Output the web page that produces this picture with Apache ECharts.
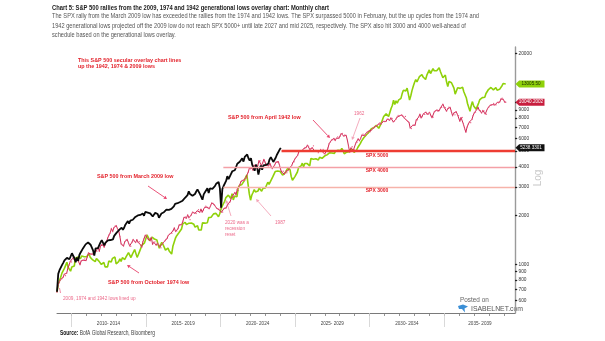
<!DOCTYPE html>
<html>
<head>
<meta charset="utf-8">
<script src="https://cdn.jsdelivr.net/npm/echarts@6/dist/echarts.min.js"></script>
<style>
  html, body { margin: 0; padding: 0; background: #fff; }
  #chart { width: 605px; height: 341px; }
</style>
</head>
<body>
<div id="chart"></div>
<script>
// S&P 500 monthly levels for each generational cycle, starting at the cycle low.
// 2009 cycle: March 2009 low, then month-end closes to March 2024.
const spx2009 = [
  676.53, 872.81, 919.14, 919.32, 987.48, 1020.62, 1057.08, 1036.19, 1095.63, 1115.10,
  1073.87, 1104.49, 1169.43, 1186.69, 1089.41, 1030.71, 1101.60, 1049.33, 1141.20, 1183.26, 1180.55, 1257.64,
  1286.12, 1327.22, 1325.83, 1363.61, 1345.20, 1320.64, 1292.28, 1218.89, 1131.42, 1253.30, 1246.96, 1257.60,
  1312.41, 1365.68, 1408.47, 1397.91, 1310.33, 1362.16, 1379.32, 1406.58, 1440.67, 1412.16, 1416.18, 1426.19,
  1498.11, 1514.68, 1569.19, 1597.57, 1630.74, 1606.28, 1685.73, 1632.97, 1681.55, 1756.54, 1805.81, 1848.36,
  1782.59, 1859.45, 1872.34, 1883.95, 1923.57, 1960.23, 1930.67, 2003.37, 1972.29, 2018.05, 2067.56, 2058.90,
  1994.99, 2104.50, 2067.89, 2085.51, 2107.39, 2063.11, 2103.84, 1972.18, 1920.03, 2079.36, 2080.41, 2043.94,
  1940.24, 1932.23, 2059.74, 2065.30, 2096.95, 2098.86, 2173.60, 2170.95, 2168.27, 2126.15, 2198.81, 2238.83,
  2278.87, 2363.64, 2362.72, 2384.20, 2411.80, 2423.41, 2470.30, 2471.65, 2519.36, 2575.26, 2647.58, 2673.61,
  2823.81, 2713.83, 2640.87, 2648.05, 2705.27, 2718.37, 2816.29, 2901.52, 2913.98, 2711.74, 2760.17, 2506.85,
  2704.10, 2784.49, 2834.40, 2945.83, 2752.06, 2941.76, 2980.38, 2926.46, 2976.74, 3037.56, 3140.98, 3230.78,
  3225.52, 2954.22, 2237.40, 2912.43, 3044.31, 3100.29, 3271.12, 3500.31, 3363.00, 3269.96, 3621.63, 3756.07,
  3714.24, 3811.15, 3972.89, 4181.17, 4204.11, 4297.50, 4395.26, 4522.68, 4307.54, 4605.38, 4567.00, 4766.18,
  4515.55, 4373.94, 4530.41, 4131.93, 4132.15, 3785.38, 4130.29, 3955.00, 3585.62, 3871.98, 4080.11, 3839.50,
  4076.60, 3970.15, 4109.31, 4169.48, 4179.83, 4450.38, 4588.96, 4507.66, 4288.05, 4193.80, 4567.80, 4769.83,
  4845.65, 5096.27, 5238.3301
];

// 1974 cycle: October 1974 low, then month-end closes to February 2005.
const spx1974 = [
  62.28, 69.97, 68.56,
  76.98, 81.59, 83.36, 87.30, 91.15, 95.19, 88.75, 86.88, 83.87, 89.04, 91.24, 90.19,
  100.86, 99.71, 102.77, 101.64, 100.18, 104.28, 103.44, 102.91, 105.24, 102.90, 102.10, 107.46,
  102.03, 99.82, 98.42, 98.44, 96.12, 100.48, 98.85, 96.77, 96.53, 92.34, 94.83, 95.10,
  89.25, 87.04, 89.21, 96.83, 97.24, 95.53, 100.68, 103.29, 102.54, 93.15, 94.70, 96.11,
  99.93, 96.28, 101.59, 101.76, 99.08, 102.91, 103.81, 109.32, 109.32, 101.82, 106.16, 107.94,
  114.16, 113.66, 102.09, 106.29, 111.24, 114.24, 121.67, 122.38, 125.46, 127.47, 140.52, 135.76,
  129.55, 131.27, 136.00, 132.81, 132.59, 131.21, 130.92, 122.79, 116.18, 121.89, 126.35, 122.55,
  120.40, 113.11, 111.96, 116.44, 111.88, 109.61, 107.09, 119.51, 120.42, 133.71, 138.54, 140.64,
  145.30, 148.06, 152.96, 164.42, 162.39, 168.11, 162.56, 164.40, 166.07, 163.55, 166.40, 164.93,
  163.41, 157.06, 159.18, 160.05, 150.55, 153.18, 150.66, 166.68, 166.10, 166.09, 163.58, 167.24,
  179.63, 181.18, 180.66, 179.83, 189.55, 191.85, 190.92, 188.63, 182.08, 189.82, 202.17, 211.28,
  211.78, 226.92, 238.90, 235.52, 247.35, 250.84, 236.12, 252.93, 231.32, 243.98, 249.22, 242.17,
  274.08, 284.20, 291.70, 288.36, 290.10, 304.00, 318.66, 329.80, 321.83, 251.79, 230.30, 247.08,
  257.07, 267.82, 258.89, 261.33, 262.16, 273.50, 272.02, 261.52, 271.91, 278.97, 273.70, 277.72,
  297.47, 288.86, 294.87, 309.64, 320.52, 317.98, 346.08, 351.45, 349.15, 340.36, 345.99, 353.40,
  329.08, 331.89, 339.94, 330.80, 361.23, 358.02, 356.15, 322.56, 306.05, 304.00, 322.22, 330.22,
  343.93, 367.07, 375.22, 375.35, 389.83, 371.16, 387.81, 395.43, 387.86, 392.46, 375.22, 417.09,
  408.79, 412.70, 403.69, 414.95, 415.35, 408.14, 424.21, 414.03, 417.80, 418.68, 431.35, 435.71,
  438.78, 443.38, 451.67, 440.19, 450.19, 450.53, 448.13, 463.56, 458.93, 467.83, 461.79, 466.45,
  481.61, 467.14, 445.77, 450.91, 456.50, 444.27, 458.26, 475.49, 462.69, 472.35, 453.69, 459.27,
  470.42, 487.39, 500.71, 514.71, 533.40, 544.75, 562.06, 561.88, 584.41, 581.50, 605.37, 615.93,
  636.02, 640.43, 645.50, 654.17, 669.12, 670.63, 639.95, 651.99, 687.33, 705.27, 757.02, 740.74,
  786.16, 790.82, 757.12, 801.34, 848.28, 885.14, 954.29, 899.47, 947.28, 914.62, 955.40, 970.43,
  980.28, 1049.34, 1101.75, 1111.75, 1090.82, 1133.84, 1120.67, 957.28, 1017.01, 1098.67, 1163.63, 1229.23,
  1279.64, 1238.33, 1286.37, 1335.18, 1301.84, 1372.71, 1328.72, 1320.41, 1282.71, 1362.93, 1388.91, 1469.25,
  1394.46, 1366.42, 1498.58, 1452.43, 1420.60, 1454.60, 1430.83, 1517.68, 1436.51, 1429.40, 1314.95, 1320.28,
  1366.01, 1239.94, 1160.33, 1249.46, 1255.82, 1224.38, 1211.23, 1133.58, 1040.94, 1059.78, 1139.45, 1148.08,
  1130.20, 1106.73, 1147.39, 1076.92, 1067.14, 989.82, 911.62, 916.07, 815.28, 885.76, 936.31, 879.82,
  855.70, 841.15, 848.18, 916.92, 963.59, 974.50, 990.31, 1008.01, 995.97, 1050.71, 1058.20, 1111.92,
  1131.13, 1144.94, 1126.21, 1107.30, 1120.68, 1140.84, 1101.72, 1104.24, 1114.58, 1130.20, 1173.82, 1211.92,
  1181.27, 1203.60
];

// 1942 cycle: April 1942 low, then month-end closes to March 1973.
const spx1942 = [
  7.47, 8.33, 8.64, 8.96, 9.04, 9.21, 9.64, 9.45, 9.77,
  10.53, 11.00, 11.58, 11.48, 12.10, 12.35, 11.72, 11.71, 11.89, 11.65, 11.03, 11.67,
  11.78, 11.76, 11.99, 11.70, 12.31, 13.06, 12.80, 12.84, 12.80, 12.87, 12.98, 13.28,
  13.39, 14.12, 13.37, 14.45, 14.73, 14.62, 14.16, 14.80, 15.37, 16.22, 16.85, 17.36,
  18.51, 17.66, 18.70, 19.14, 19.25, 18.43, 17.91, 16.49, 14.84, 14.60, 14.40, 15.30,
  15.66, 15.80, 15.17, 14.42, 14.35, 15.21, 15.80, 15.36, 15.12, 15.77, 15.18, 15.30,
  14.69, 14.15, 15.31, 16.03, 16.83, 16.82, 15.97, 16.01, 15.50, 16.29, 14.75, 15.20,
  15.29, 14.58, 15.01, 14.69, 14.21, 14.03, 14.85, 15.07, 15.44, 15.84, 16.05, 16.76,
  17.05, 17.22, 17.29, 17.96, 18.65, 17.69, 17.84, 18.42, 19.45, 19.53, 19.51, 20.43,
  21.66, 21.80, 21.40, 22.43, 21.52, 20.96, 22.40, 23.28, 23.26, 22.94, 22.88, 23.77,
  24.14, 23.26, 24.37, 23.32, 23.86, 24.96, 25.40, 25.03, 24.54, 24.52, 25.66, 26.57,
  26.38, 25.90, 25.29, 24.62, 24.54, 24.14, 24.75, 23.32, 23.35, 24.54, 24.76, 24.81,
  26.08, 26.15, 26.94, 28.26, 29.19, 29.21, 30.88, 29.83, 32.31, 31.68, 34.24, 35.98,
  36.63, 36.76, 36.58, 37.96, 37.91, 41.03, 43.52, 43.18, 43.67, 42.34, 45.51, 45.48,
  43.82, 45.34, 48.48, 48.38, 45.20, 46.97, 49.39, 47.51, 45.35, 45.58, 45.08, 46.67,
  44.72, 43.26, 44.11, 45.74, 47.43, 47.37, 47.91, 45.22, 42.42, 41.06, 41.72, 39.99,
  41.70, 40.84, 42.10, 43.44, 44.09, 45.24, 47.19, 47.75, 50.06, 51.33, 52.48, 55.21,
  55.42, 55.41, 55.44, 57.59, 58.68, 58.47, 60.51, 59.60, 56.88, 57.52, 58.28, 59.89,
  55.61, 56.12, 55.34, 54.37, 55.83, 56.92, 55.51, 56.96, 53.52, 53.39, 55.54, 58.11,
  61.78, 63.44, 65.06, 65.31, 66.56, 64.64, 66.76, 68.07, 66.73, 68.62, 71.32, 71.55,
  68.84, 69.96, 69.55, 65.24, 59.63, 54.75, 58.23, 59.12, 56.27, 56.52, 62.26, 63.10,
  66.20, 64.29, 66.57, 69.80, 70.80, 69.37, 69.13, 72.50, 71.70, 74.01, 73.23, 75.02,
  77.04, 77.80, 78.98, 79.46, 80.37, 81.69, 83.18, 81.83, 84.18, 84.86, 84.42, 84.75,
  87.56, 87.43, 86.16, 89.11, 88.42, 84.12, 85.25, 87.17, 89.96, 92.42, 91.61, 92.43,
  92.88, 91.22, 89.23, 91.06, 86.13, 84.74, 83.60, 77.10, 76.56, 80.20, 80.45, 80.33,
  86.61, 86.78, 90.20, 94.01, 89.08, 90.64, 94.75, 93.64, 96.71, 93.90, 94.00, 96.47,
  92.24, 89.36, 90.20, 97.59, 98.68, 99.58, 97.74, 98.86, 102.67, 103.41, 108.37, 103.86,
  103.01, 98.13, 101.51, 103.69, 103.46, 97.71, 91.83, 95.51, 93.12, 97.24, 93.81, 92.06,
  85.02, 89.50, 89.63, 81.52, 76.55, 72.72, 78.05, 81.52, 84.21, 83.25, 87.20, 92.15,
  95.88, 96.75, 100.31, 103.95, 99.63, 98.70, 95.58, 99.03, 98.34, 94.23, 93.99, 102.09,
  103.94, 106.57, 107.20, 107.67, 109.53, 107.14, 107.39, 111.09, 110.55, 111.58, 116.67, 118.05,
  116.03, 111.68, 111.52
];

// Overlay rebasing: each older cycle is scaled so its low sits on the 2009 low.
const rebase = { c2009: 1, c1974: 10.8055, c1942: 90.03049 };
// Trading-session pace of each cycle relative to the 2009 calendar.
const sessionPace = { c2009: 1, c1974: 0.9916, c1942: 0.973 };

// Axis settings
const CYCLE_START = 2009.05;
const X_MIN = 2009.05, X_MAX = 2039.75;
const yearTicks = [2010, 2011, 2012, 2013, 2014, 2015, 2016, 2017, 2018, 2019, 2020, 2021, 2022, 2023, 2024,
  2025, 2026, 2027, 2028, 2029, 2030, 2031, 2032, 2033, 2034, 2035, 2036, 2037, 2038, 2039];
const periodBreaks = [2010, 2015, 2020, 2025, 2030, 2035];
const periodLabelAt = [2012.5, 2017.5, 2022.5, 2027.5, 2032.5, 2037.4];
const yTickValues = [600, 700, 800, 900, 1000, 2000, 3000, 4000, 5000, 6000, 7000, 8000, 9000, 10000, 20000];
const spxLevels = [5000, 4000, 3000];

const toPoints = (levels, k, pace) => levels.map((v, i) => [CYCLE_START + (i / 12) * pace, v * k]);
const s2009 = toPoints(spx2009, rebase.c2009, sessionPace.c2009);
const s1974 = toPoints(spx1974, rebase.c1974, sessionPace.c1974);
const s1942 = toPoints(spx1942, rebase.c1942, sessionPace.c1942);
const last = s => s[s.length - 1][1];

const RED = '#e3222b';
const PINK = '#ec6a8a';
const LIGHT_PINK = '#f3a3b7';
const SANS = '"Liberation Sans", Arial, sans-serif';

// Tag marker drawn at the right axis for the latest value of a line.
const TAG_PATH = 'path://M0,5 L5,0 L40,0 L40,10 L5,10 Z';
function endTag(value, text, bg, fg) {
  return {
    symbol: 'none',
    data: [{
      coord: [X_MAX, value],
      symbol: TAG_PATH,
      symbolSize: [29, 7],
      symbolOffset: [15, 0],
      itemStyle: { color: bg },
      label: {
        show: true, position: 'inside', offset: [1, 0],
        formatter: text, color: fg, fontSize: 4.6, fontFamily: SANS
      }
    }],
    silent: true,
    animation: false
  };
}

function txt(x, y, text, font, fill, sx) {
  return {
    type: 'text', x: x, y: y, scaleX: sx || 1, silent: true,
    style: { text: text, font: font, fill: fill, verticalAlign: 'middle' }
  };
}

function arrow(x1, y1, x2, y2, color, head) {
  const dx = x2 - x1, dy = y2 - y1, len = Math.hypot(dx, dy);
  const ux = dx / len, uy = dy / len, h = head || 3.2, w = h * 0.55;
  const bx = x2 - ux * h, by = y2 - uy * h;
  return [
    { type: 'line', silent: true, shape: { x1: x1, y1: y1, x2: bx, y2: by }, style: { stroke: color, lineWidth: 0.9 } },
    { type: 'polygon', silent: true, shape: { points: [[x2, y2], [bx - uy * w, by + ux * w], [bx + uy * w, by - ux * w]] }, style: { fill: color } }
  ];
}

const boldRed = 'bold 5.4px ' + SANS;
const thinPink = '4.7px ' + SANS;

const graphics = [
  txt(52, 7.5, 'Chart 5: S&P 500 rallies from the 2009, 1974 and 1942 generational lows overlay chart: Monthly chart', 'bold 7.4px ' + SANS, '#1b1b1b', 0.785),
  txt(52, 16.5, 'The SPX rally from the March 2009 low has exceeded the rallies from the 1974 and 1942 lows. The SPX surpassed 5000 in February, but the up cycles from the 1974 and', '6.6px ' + SANS, '#555', 0.86),
  txt(52, 25.8, '1942 generational lows projected off the 2009 low do not reach SPX 5000+ until late 2027 and mid 2025, respectively. The SPX also hit 3000 and 4000 well-ahead of', '6.6px ' + SANS, '#555', 0.86),
  txt(52, 35, 'schedule based on the generational lows overlay.', '6.6px ' + SANS, '#555', 0.86),

  txt(78, 60.7, 'This S&P 500 secular overlay chart lines', boldRed, RED),
  txt(78, 66.7, 'up the 1942, 1974 & 2009 lows', boldRed, RED),
  txt(228, 117.7, 'S&P 500 from April 1942 low', boldRed, RED),
  txt(97, 176.7, 'S&P 500 from March 2009 low', boldRed, RED),
  txt(108, 282.7, 'S&P 500 from October 1974 low', boldRed, RED),
  txt(354, 114, '1962', thinPink, PINK),
  txt(225, 223, '2020 was a', thinPink, PINK),
  txt(225, 229, 'recession', thinPink, PINK),
  txt(225, 235, 'reset', thinPink, PINK),
  txt(275, 222.7, '1987', thinPink, PINK),
  txt(63, 298.3, '2009, 1974 and 1942 lows lined up', thinPink, PINK),
  { type: 'line', silent: true, shape: { x1: 59.5, y1: 288, x2: 60.5, y2: 293 }, style: { stroke: PINK, lineWidth: 0.8 } },

  txt(460, 300.7, 'Posted on', '6.4px ' + SANS, '#666'),
  txt(471, 309.2, 'ISABELNET.com', '6.9px ' + SANS, '#555'),
  { type: 'polygon', silent: true, shape: { points: [[458, 306], [463, 304.5], [468, 306.5], [464.5, 308.5], [465, 312.5], [462, 309], [459, 309]] }, style: { fill: '#3b8fd6' } },

  {
    type: 'text', x: 60, y: 333.5, scaleX: 0.77, silent: true,
    style: {
      text: '{b|Source:} BofA Global Research, Bloomberg', verticalAlign: 'middle',
      font: '6.4px ' + SANS, fill: '#444',
      rich: { b: { font: 'bold 6.4px ' + SANS, fill: '#111' } }
    }
  },
  {
    type: 'text', x: 538, y: 178, rotation: Math.PI / 2, silent: true,
    style: { text: 'Log', font: '10px ' + SANS, fill: '#c9c9c9', align: 'center', verticalAlign: 'middle' }
  }
]
  .concat(arrow(313, 120, 330, 138, '#e8416a'))
  .concat(arrow(360, 118, 352, 140, LIGHT_PINK))
  .concat(arrow(148, 186, 167, 199, '#e8416a'))
  .concat(arrow(231, 216, 226, 200, LIGHT_PINK))
  .concat(arrow(271, 216, 256, 199, LIGHT_PINK))
  .concat(arrow(139, 273, 127, 265, '#e8416a'));

const chart = echarts.init(document.getElementById('chart'), null, { renderer: 'canvas' });

chart.setOption({
  animation: false,
  backgroundColor: '#fff',
  textStyle: { fontFamily: SANS },
  grid: { left: 57, right: 90, top: 47, bottom: 28, containLabel: false },
  xAxis: [
    {
      type: 'value', min: X_MIN, max: X_MAX, position: 'bottom',
      axisLine: { show: true, lineStyle: { color: '#7a7a7a', width: 1 } },
      axisTick: { show: true, customValues: yearTicks, length: 3, lineStyle: { color: '#7a7a7a', width: 0.8 } },
      axisLabel: { show: false },
      splitLine: { show: false }
    },
    {
      type: 'value', min: X_MIN, max: X_MAX, position: 'bottom',
      axisLine: { show: false },
      axisTick: { show: true, customValues: periodBreaks, length: 14, lineStyle: { color: '#cfcfcf', width: 0.8 } },
      axisLabel: {
        show: true, customValues: periodLabelAt, margin: 8, fontSize: 4.6, color: '#444',
        formatter: v => { const a = Math.floor(v / 5) * 5; return a + '- ' + (a + 4); }
      },
      splitLine: { show: false }
    }
  ],
  yAxis: {
    type: 'log', logBase: 10, min: 500, max: 22000, position: 'right',
    axisLine: { show: true, lineStyle: { color: '#9a9a9a', width: 1.4 } },
    axisTick: { show: true, customValues: yTickValues, length: 2.2, lineStyle: { color: '#222', width: 1.3 } },
    axisLabel: { show: true, customValues: yTickValues, margin: 3.5, fontSize: 4.8, color: '#333', formatter: v => String(Math.round(v)) },
    splitLine: { show: false }
  },
  series: [
    {
      name: 'S&P 500 from October 1974 low', type: 'line', data: s1974,
      showSymbol: false, lineStyle: { color: '#8fd10a', width: 1.6 }, z: 2,
      markPoint: endTag(last(s1974), last(s1974).toFixed(2), '#8fd10a', '#1a2a00')
    },
    {
      name: 'S&P 500 from April 1942 low', type: 'line', data: s1942,
      showSymbol: true, symbol: 'circle', symbolSize: 1.3,
      itemStyle: { color: '#e4587f' },
      lineStyle: { color: '#cf2652', width: 1 }, z: 3,
      markPoint: endTag(last(s1942), last(s1942).toFixed(4), '#c81e3e', '#fff')
    },
    {
      name: 'S&P 500 from March 2009 low', type: 'line', data: s2009,
      showSymbol: false, lineStyle: { color: '#0a0a0a', width: 1.8 }, z: 4,
      markPoint: endTag(last(s2009), last(s2009).toFixed(4), '#111', '#fff')
    },
    {
      name: 'SPX levels', type: 'line', data: [], z: 5,
      markLine: {
        silent: true, animation: false, symbol: ['none', 'none'],
        label: { show: false },
        data: [
          [{ coord: [2024.1, spxLevels[0]], lineStyle: { color: '#ee3d33', width: 2.4, type: 'solid' } }, { coord: [X_MAX, spxLevels[0]] }],
          [{ coord: [2020.2, spxLevels[1]], lineStyle: { color: '#f4a0a6', width: 1.4, type: 'solid' } }, { coord: [X_MAX, spxLevels[1]] }],
          [{ coord: [2020.2, spxLevels[2]], lineStyle: { color: '#f6b3aa', width: 1.4, type: 'solid' } }, { coord: [X_MAX, spxLevels[2]] }]
        ]
      },
      markPoint: {
        silent: true, animation: false, symbol: 'circle', symbolSize: 0,
        label: { show: true, position: 'bottom', distance: 1.5, color: RED, fontWeight: 'bold', fontSize: 5, fontFamily: SANS },
        data: spxLevels.map(v => ({ coord: [2030.5, v], label: { formatter: 'SPX ' + v } }))
      }
    }
  ],
  graphic: graphics
});
</script>
</body>
</html>
